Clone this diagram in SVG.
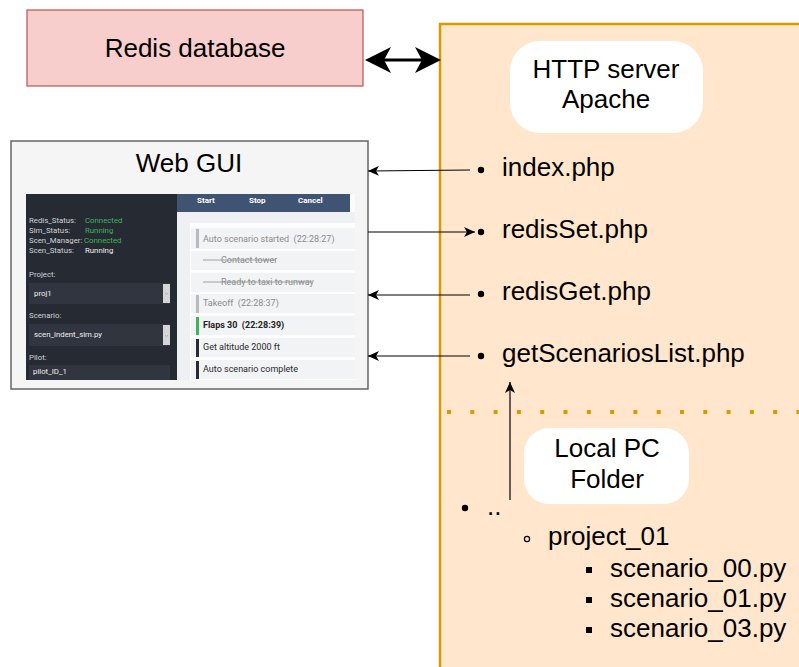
<svg xmlns="http://www.w3.org/2000/svg" width="799" height="667" viewBox="0 0 799 667">
<defs>
<marker id="ah" markerUnits="userSpaceOnUse" markerWidth="12" markerHeight="10" refX="11" refY="5" orient="auto">
<path d="M0,0 L11,5 L0,10 L3,5 Z" fill="#000"/>
</marker>
</defs>
<style>
.big{font-family:"Liberation Sans",Arial,sans-serif;font-size:26px;fill:#000}
.mid{text-anchor:middle}
.sm{font-family:Roboto,"Liberation Sans",sans-serif;font-size:7.8px;fill:#cfd3d9}
.it{font-family:Roboto,"Liberation Sans",sans-serif;font-size:9px;white-space:pre}
.btn{font-family:Roboto,"Liberation Sans",sans-serif;font-size:8px;font-weight:bold;fill:#fff}
.thin{stroke:#000;stroke-width:1.2;fill:none}
</style>
<rect width="799" height="667" fill="#fff"/>

<g id="apache-container">
<rect x="440" y="24" width="380" height="670" fill="#ffe6cc" stroke="#d79b00" stroke-width="2.5"/>
<line x1="447" y1="412" x2="799" y2="412" stroke="#d79b00" stroke-width="4" stroke-dasharray="4 19.3"/>
</g>

<g id="redis">
<rect x="27" y="10" width="336" height="76" fill="#f8cecc" stroke="#b85450" stroke-width="1.2"/>
<text class="big mid" x="195" y="57">Redis database</text>
</g>

<g id="http-server">
<rect x="510" y="41" width="193" height="92" rx="30" fill="#fff"/>
<text class="big mid" x="606" y="78">HTTP server</text>
<text class="big mid" x="606" y="108">Apache</text>
</g>

<g id="php-list">
<circle cx="481" cy="170" r="3.2"/>
<text class="big" x="502" y="176">index.php</text>
<circle cx="481" cy="232" r="3.2"/>
<text class="big" x="502" y="238">redisSet.php</text>
<circle cx="481" cy="294" r="3.2"/>
<text class="big" x="502" y="300">redisGet.php</text>
<circle cx="481" cy="356" r="3.2"/>
<text class="big" x="502" y="362">getScenariosList.php</text>
</g>

<g id="local-pc-folder">
<rect x="524" y="428" width="165" height="76" rx="25" fill="#fff"/>
<text class="big mid" x="607" y="457">Local PC</text>
<text class="big mid" x="607" y="488">Folder</text>
</g>

<g id="folder-list">
<circle cx="465" cy="508" r="3.2"/>
<text class="big" x="487" y="515">..</text>
<circle cx="527" cy="539" r="2.6" fill="none" stroke="#000" stroke-width="1.2"/>
<text class="big" x="548" y="545">project_01</text>
<rect x="586" y="567" width="6" height="6"/>
<text class="big" x="610" y="577">scenario_00.py</text>
<rect x="586" y="597" width="6" height="6"/>
<text class="big" x="610" y="607">scenario_01.py</text>
<rect x="586" y="627" width="6" height="6"/>
<text class="big" x="610" y="637">scenario_03.py</text>
</g>

<g id="web-gui">
<rect x="11" y="141" width="357" height="248" fill="#f5f5f5" stroke="#666" stroke-width="1.5"/>
<text class="big mid" x="189" y="172">Web GUI</text>
<rect x="26" y="194" width="151" height="186" fill="#262a33"/>
<rect x="177" y="194" width="178" height="186" fill="#eef0f3"/>
<rect x="350" y="194" width="5" height="18" fill="#fbfbfc"/>
<rect x="177" y="194" width="173" height="18" fill="#3f5473"/>
<text class="btn" x="197" y="203">Start</text>
<text class="btn" x="249" y="203">Stop</text>
<text class="btn" x="298" y="203">Cancel</text>
<rect x="190" y="223" width="165" height="157" fill="#fdfdfe"/>
<g fill="#f2f3f5">
<rect x="191" y="228" width="164" height="21"/>
<rect x="191" y="251" width="164" height="19"/>
<rect x="191" y="273" width="164" height="19"/>
<rect x="191" y="294" width="164" height="19"/>
<rect x="191" y="316" width="164" height="19"/>
<rect x="191" y="338" width="164" height="19"/>
<rect x="191" y="360" width="164" height="19"/>
</g>
<rect x="196" y="229" width="3" height="19" fill="#b9bac1"/>
<rect x="196" y="295" width="3" height="18" fill="#b9bac1"/>
<rect x="196" y="317" width="3" height="18" fill="#3cb55a"/>
<rect x="196" y="339" width="3" height="18" fill="#262a33"/>
<rect x="196" y="361" width="3" height="18" fill="#262a33"/>
<text class="it" x="203" y="242" fill="#8c8c8c" xml:space="preserve">Auto scenario started  (22:28:27)</text>
<line x1="203" y1="260" x2="276" y2="260" stroke="#8c8c8c" stroke-width="0.8"/>
<text class="it" x="221" y="263" fill="#8c8c8c">Contact tower</text>
<line x1="203" y1="282" x2="312" y2="282" stroke="#8c8c8c" stroke-width="0.8"/>
<text class="it" x="221" y="285" fill="#8c8c8c">Ready to taxi to runway</text>
<text class="it" x="203" y="306" fill="#8c8c8c" xml:space="preserve">Takeoff  (22:28:37)</text>
<text class="it" x="203" y="328" fill="#222" font-weight="bold" xml:space="preserve">Flaps 30  (22:28:39)</text>
<text class="it" x="203" y="350" fill="#2a2a2a">Get altitude 2000 ft</text>
<text class="it" x="203" y="372" fill="#2a2a2a">Auto scenario complete</text>
<text class="sm" x="29" y="223">Redis_Status:</text>
<text class="sm" x="85" y="223" style="fill:#3cb55a">Connected</text>
<text class="sm" x="29" y="233">Sim_Status:</text>
<text class="sm" x="85" y="233" style="fill:#3cb55a">Running</text>
<text class="sm" x="29" y="243">Scen_Manager:</text>
<text class="sm" x="84" y="243" style="fill:#3cb55a">Connected</text>
<text class="sm" x="29" y="253">Scen_Status:</text>
<text class="sm" x="85" y="253" style="fill:#f0f0f0">Running</text>
<text class="sm" x="29" y="277">Project:</text>
<rect x="29" y="283" width="141" height="21" fill="#30353f"/>
<rect x="163" y="284" width="7" height="19" fill="#d6d6d8"/>
<path d="M165,293 L166.5,294.5 L168,293" stroke="#888" stroke-width="0.5" fill="none"/>
<text class="sm" x="34" y="296" style="fill:#f0f0f0">proj1</text>
<text class="sm" x="29" y="318">Scenario:</text>
<rect x="29" y="324" width="141" height="22" fill="#30353f"/>
<rect x="163" y="325" width="7" height="20" fill="#d6d6d8"/>
<path d="M165,335 L166.5,336.5 L168,335" stroke="#888" stroke-width="0.5" fill="none"/>
<text class="sm" x="34" y="337" style="fill:#f0f0f0">scen_indent_sim.py</text>
<text class="sm" x="29" y="360">Pilot:</text>
<rect x="29" y="365" width="141" height="15" fill="#30353f"/>
<text class="sm" x="33" y="374" style="fill:#f0f0f0">pilot_ID_1</text>
</g>

<g id="connectors">
<line x1="383" y1="60" x2="423" y2="60" stroke="#000" stroke-width="3"/>
<path d="M365,60 L391,47 L384,60 L391,73 Z" fill="#000"/>
<path d="M441,60 L415,47 L422,60 L415,73 Z" fill="#000"/>
<line class="thin" x1="470" y1="170" x2="368" y2="171" marker-end="url(#ah)"/>
<line class="thin" x1="368" y1="232" x2="475" y2="232" marker-end="url(#ah)"/>
<line class="thin" x1="470" y1="295" x2="368" y2="295" marker-end="url(#ah)"/>
<line class="thin" x1="470" y1="356" x2="368" y2="356" marker-end="url(#ah)"/>
<line class="thin" x1="510" y1="500" x2="510" y2="382" marker-end="url(#ah)"/>
</g>
</svg>
